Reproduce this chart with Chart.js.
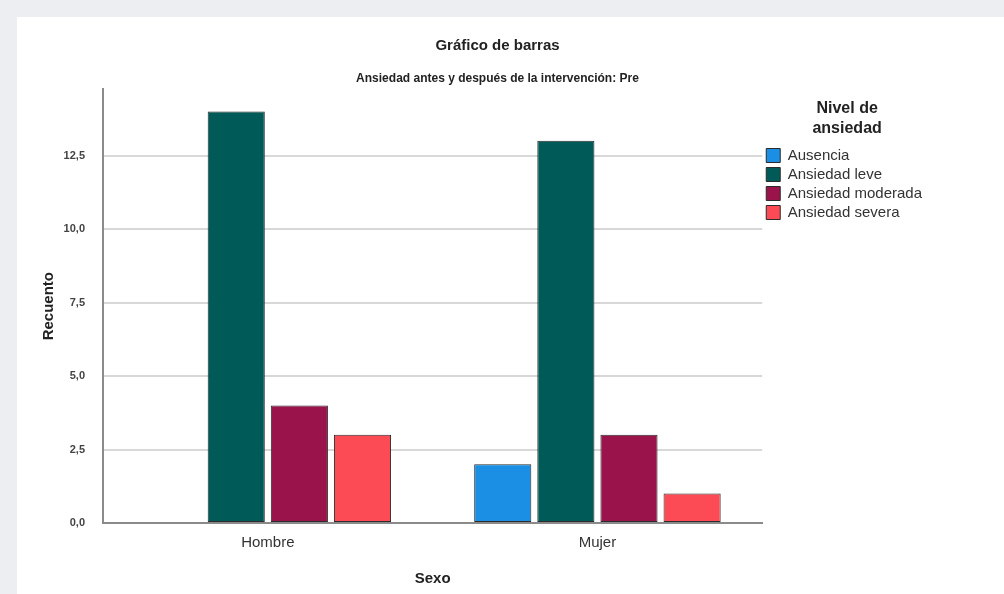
<!DOCTYPE html>
<html lang="es">
<head>
<meta charset="UTF-8">
<title>Gráfico de barras</title>
<script src="https://cdn.jsdelivr.net/npm/chart.js"></script>
<style>
  html, body { margin: 0; padding: 0; background: #eceef2; }
  #panel { position: absolute; left: 17px; top: 17px; width: 987px; height: 577px; background: #fff; }
</style>
</head>
<body>
<div id="panel"><canvas id="grafico"></canvas></div>
<script>
// categorías del eje X
const sexos = ["Hombre", "Mujer"];
// niveles de ansiedad (series)
const niveles = ["Ausencia", "Ansiedad leve", "Ansiedad moderada", "Ansiedad severa"];
const colores = ["#1a8fe3", "#005b58", "#9a144b", "#fc4b54"];
// recuentos por nivel: [Hombre, Mujer]
const ausencia = [0, 2];
const leve = [14, 13];
const moderada = [4, 3];
const severa = [3, 1];
const recuentos = [ausencia, leve, moderada, severa];

const fuente = "'Liberation Sans', Arial, sans-serif";

new Chart(document.getElementById('grafico'), {
  type: 'bar',
  data: {
    labels: sexos,
    datasets: niveles.map((n, i) => ({
      label: n,
      data: recuentos[i],
      backgroundColor: colores[i],
      borderColor: '#2b2b2b',
      borderWidth: 1,
      borderSkipped: false,
      categoryPercentage: 0.766,
      barPercentage: 0.905
    }))
  },
  options: {
    responsive: true,
    maintainAspectRatio: false,
    animation: false,
    layout: { padding: { left: 46, right: 72, top: 0, bottom: 0 } },
    plugins: {
      title: {
        display: true,
        text: 'Gráfico de barras',
        color: '#222',
        font: { family: fuente, size: 15, weight: 'bold' },
        padding: { top: 20, bottom: 8 }
      },
      subtitle: {
        display: true,
        text: 'Ansiedad antes y después de la intervención: Pre',
        color: '#222',
        font: { family: fuente, size: 12, weight: 'bold' },
        padding: { top: 8, bottom: 4 }
      },
      legend: {
        position: 'right',
        align: 'start',
        title: {
          display: true,
          text: ['Nivel de', 'ansiedad'],
          color: '#222',
          font: { family: fuente, size: 16, weight: 'bold', lineHeight: 1.25 },
          padding: { top: 84, bottom: 23 }
        },
        labels: {
          color: '#333',
          font: { family: fuente, size: 15 },
          boxWidth: 14,
          boxHeight: 14,
          padding: 4
        }
      },
      tooltip: { enabled: false }
    },
    scales: {
      x: {
        grid: { display: false, drawTicks: false },
        border: { display: true, color: '#8a8a8a', width: 2 },
        ticks: { color: '#333', font: { family: fuente, size: 15 }, padding: 11 },
        title: {
          display: true,
          text: 'Sexo',
          color: '#222',
          font: { family: fuente, size: 15, weight: 'bold' },
          padding: { top: 7, bottom: 6 }
        }
      },
      y: {
        min: 0,
        max: 14.75,
        afterFit: s => { s.width = 40; },
        grid: { color: '#d8d8d8', lineWidth: 2, drawTicks: false },
        border: { display: true, color: '#8a8a8a', width: 2 },
        ticks: {
          stepSize: 2.5,
          includeBounds: false,
          color: '#444',
          padding: 18,
          font: { family: fuente, size: 11, weight: 'bold' },
          callback: v => v.toFixed(1).replace('.', ',')
        },
        title: {
          display: true,
          text: 'Recuento',
          color: '#222',
          font: { family: fuente, size: 15, weight: 'bold' },
          padding: { top: -23, bottom: 0 }
        }
      }
    }
  }
});
</script>
</body>
</html>
